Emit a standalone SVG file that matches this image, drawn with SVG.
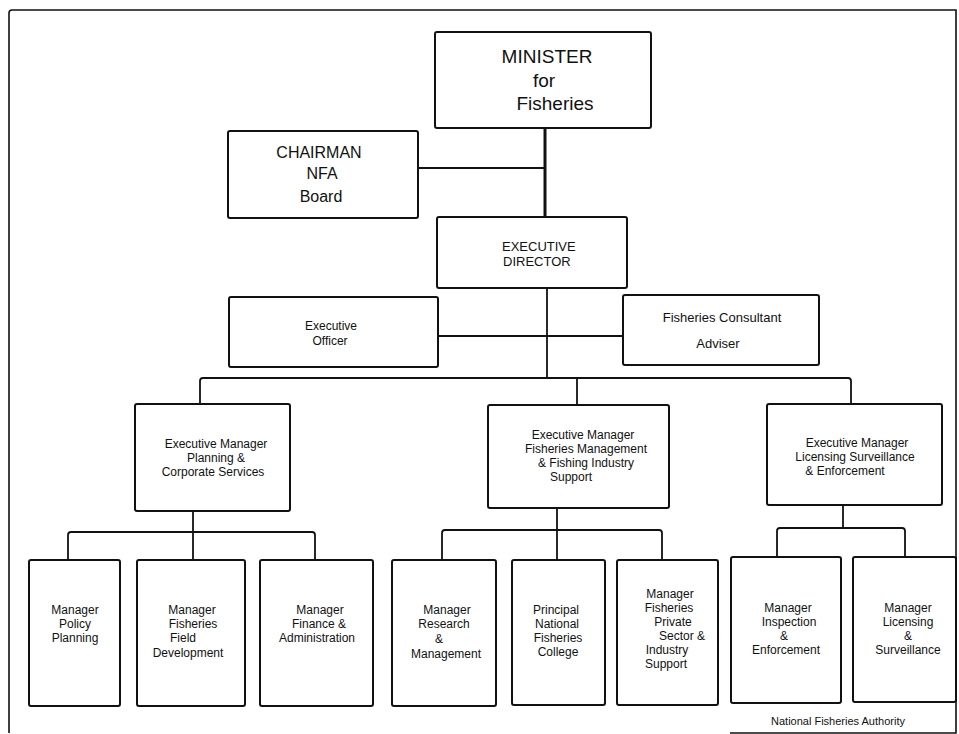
<svg xmlns="http://www.w3.org/2000/svg" width="959" height="734" viewBox="0 0 959 734">
<style>
  .box { fill: #ffffff; stroke: #111111; stroke-width: 2; }
  .conn { fill: none; stroke: #111111; stroke-width: 1.8; stroke-linejoin: round; }
  .thick { stroke-width: 3; }
  .frame { fill: none; stroke: #111111; stroke-width: 1.6; }
  text { font-family: "Liberation Sans", Arial, Helvetica, sans-serif; fill: #111111; text-anchor: middle; }
  .t19 { font-size: 19px; }
  .t16 { font-size: 16px; }
  .t13 { font-size: 13px; }
  .t12 { font-size: 12px; }
  .t11 { font-size: 11px; }
  .start { text-anchor: start; }
</style>
<rect x="0" y="0" width="959" height="734" fill="#ffffff"/>
<path class="frame" d="M 9 733 V 13 Q 9 10 12 10 H 956 V 733 H 730"/>

<g id="connectors">
  <line class="conn thick" x1="545" y1="128" x2="545" y2="217"/>
  <line class="conn" x1="418" y1="168" x2="545" y2="168"/>
  <line class="conn" x1="547" y1="288" x2="547" y2="378"/>
  <line class="conn" x1="438" y1="336" x2="623" y2="336"/>
  <path class="conn" d="M 200 404 V 381 Q 200 378 203 378 H 848 Q 851 378 851 381 V 404"/>
  <line class="conn" x1="577" y1="378" x2="577" y2="405"/>
  <line class="conn" x1="193" y1="511" x2="193" y2="560"/>
  <path class="conn" d="M 68 560 V 535 Q 68 532 71 532 H 312 Q 315 532 315 535 V 560"/>
  <line class="conn" x1="557" y1="508" x2="557" y2="560"/>
  <path class="conn" d="M 442 560 V 533 Q 442 530 445 530 H 659 Q 662 530 662 533 V 560"/>
  <line class="conn" x1="843" y1="505" x2="843" y2="528"/>
  <path class="conn" d="M 777 557 V 531 Q 777 528 780 528 H 902 Q 905 528 905 531 V 557"/>
</g>

<g id="minister">
  <rect class="box" x="435" y="32" width="216" height="96" rx="2"/>
  <text class="t19" x="547" y="63">MINISTER</text>
  <text class="t19" x="544" y="87">for</text>
  <text class="t19" x="555" y="110">Fisheries</text>
</g>

<g id="chairman">
  <rect class="box" x="228" y="131" width="190" height="87" rx="2"/>
  <text class="t16" x="319" y="158">CHAIRMAN</text>
  <text class="t16" x="322" y="179">NFA</text>
  <text class="t16" x="321" y="202">Board</text>
</g>

<g id="executive-director">
  <rect class="box" x="437" y="217" width="190" height="71" rx="2"/>
  <text class="t13 start" x="502" y="251">EXECUTIVE</text>
  <text class="t13 start" x="503" y="266">DIRECTOR</text>
</g>

<g id="executive-officer">
  <rect class="box" x="229" y="297" width="209" height="70" rx="2"/>
  <text class="t12" x="331" y="330">Executive</text>
  <text class="t12" x="330" y="345">Officer</text>
</g>

<g id="consultant">
  <rect class="box" x="623" y="295" width="196" height="70" rx="2"/>
  <text class="t13" x="722" y="322">Fisheries Consultant</text>
  <text class="t13" x="718" y="348">Adviser</text>
</g>

<g id="em-planning">
  <rect class="box" x="135" y="404" width="155" height="107" rx="2"/>
  <text class="t12" x="216" y="448">Executive Manager</text>
  <text class="t12" x="216" y="462">Planning &amp;</text>
  <text class="t12" x="213" y="476">Corporate Services</text>
</g>

<g id="em-fisheries">
  <rect class="box" x="488" y="405" width="181" height="103" rx="2"/>
  <text class="t12" x="583" y="439">Executive Manager</text>
  <text class="t12" x="586" y="453">Fisheries Management</text>
  <text class="t12" x="586" y="467">&amp; Fishing Industry</text>
  <text class="t12" x="571" y="481">Support</text>
</g>

<g id="em-licensing">
  <rect class="box" x="767" y="404" width="175" height="101" rx="2"/>
  <text class="t12" x="857" y="447">Executive Manager</text>
  <text class="t12" x="855" y="461">Licensing Surveillance</text>
  <text class="t12" x="845" y="475">&amp; Enforcement</text>
</g>

<g id="mgr-policy">
  <rect class="box" x="29" y="560" width="91" height="146" rx="2"/>
  <text class="t12" x="75" y="614">Manager</text>
  <text class="t12" x="75" y="628">Policy</text>
  <text class="t12" x="75" y="642">Planning</text>
</g>

<g id="mgr-field">
  <rect class="box" x="137" y="560" width="108" height="146" rx="2"/>
  <text class="t12" x="192" y="614">Manager</text>
  <text class="t12" x="193" y="628">Fisheries</text>
  <text class="t12" x="183" y="642">Field</text>
  <text class="t12" x="188" y="657">Development</text>
</g>

<g id="mgr-finance">
  <rect class="box" x="260" y="560" width="113" height="146" rx="2"/>
  <text class="t12" x="320" y="614">Manager</text>
  <text class="t12" x="319" y="628">Finance &amp;</text>
  <text class="t12" x="317" y="642">Administration</text>
</g>

<g id="mgr-research">
  <rect class="box" x="392" y="560" width="104" height="146" rx="2"/>
  <text class="t12" x="447" y="614">Manager</text>
  <text class="t12" x="444" y="628">Research</text>
  <text class="t12" x="439" y="643">&amp;</text>
  <text class="t12" x="446" y="658">Management</text>
</g>

<g id="principal-college">
  <rect class="box" x="512" y="560" width="93" height="145" rx="2"/>
  <text class="t12" x="556" y="614">Principal</text>
  <text class="t12" x="557" y="628">National</text>
  <text class="t12" x="558" y="642">Fisheries</text>
  <text class="t12" x="558" y="656">College</text>
</g>

<g id="mgr-private-sector">
  <rect class="box" x="617" y="560" width="101" height="145" rx="2"/>
  <text class="t12" x="670" y="598">Manager</text>
  <text class="t12" x="669" y="612">Fisheries</text>
  <text class="t12" x="673" y="626">Private</text>
  <text class="t12" x="682" y="640">Sector &amp;</text>
  <text class="t12" x="667" y="654">Industry</text>
  <text class="t12" x="666" y="668">Support</text>
</g>

<g id="mgr-inspection">
  <rect class="box" x="731" y="557" width="110" height="146" rx="2"/>
  <text class="t12" x="788" y="612">Manager</text>
  <text class="t12" x="789" y="626">Inspection</text>
  <text class="t12" x="784" y="640">&amp;</text>
  <text class="t12" x="786" y="654">Enforcement</text>
</g>

<g id="mgr-licensing">
  <rect class="box" x="853" y="557" width="103" height="145" rx="2"/>
  <text class="t12" x="908" y="612">Manager</text>
  <text class="t12" x="908" y="626">Licensing</text>
  <text class="t12" x="908" y="640">&amp;</text>
  <text class="t12" x="908" y="654">Surveillance</text>
</g>

<text class="t11" x="838" y="725">National Fisheries Authority</text>
</svg>
